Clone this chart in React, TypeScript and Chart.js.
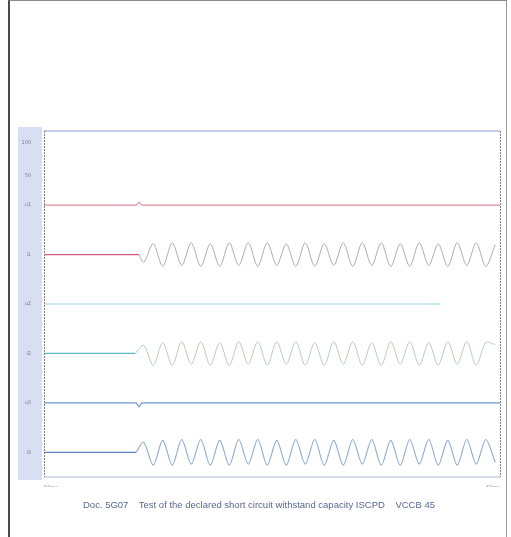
import React, { useEffect, useRef } from "react";
import { Chart, registerables } from "chart.js";

Chart.register(...registerables);

// time axis (ms) and trace baselines
const timeRange = [0, 480];
const timeTickLabels = ["50ms", "50ms"];
const traceBaselines = [275, 225, 175, 125, 75, 25];
const traceLabels = ["u1", "i1", "u2", "i2", "u3", "i3"];
const upperTickValues = [305, 338];
const upperTickLabels = ["50", "100"];

// flat traces (time, offset from baseline)
const flat1Times = [0, 97, 100, 103, 480];
const flat1Values = [0, 0, 3, 0, 0];
const flat3Times = [0, 417];
const flat3Values = [0, 0];
const flat5Times = [0, 97, 100, 103, 480];
const flat5Values = [0, 0, -4, 0, 0];

// pre-fault segments of the oscillating traces
const preFaultEnd = [100, 96, 97];

// oscillation: peak times and peak offsets
const waveTimes = [
  100, 105, 115, 125, 135, 145, 155, 165, 175, 185, 195, 205, 215, 225, 235, 245,
  255, 265, 275, 285, 295, 305, 315, 325, 335, 345, 355, 365, 375, 385, 395, 405,
  415, 425, 435, 445, 455, 465, 475,
];
const wave2Values = [
  0, -8, 11, -12, 12, -11, 12, -12, 11, -12, 12, -11, 12, -12, 12, -11, 11, -12, 12,
  -12, 11, -11, 12, -12, 12, -11, 12, -12, 11, -12, 12, -11, 11, -12, 12, -11, 12, -12, 10,
];
const wave4Values = [
  0, 8, -12, 11, -12, 12, -11, 12, -12, 11, -12, 12, -11, 12, -12, 12, -11, 12, -12,
  11, -12, 12, -11, 12, -12, 11, -12, 12, -11, 12, -12, 11, -12, 12, -11, 12, -12, 11, 9,
];
const wave6Values = [
  0, 10, -13, 12, -13, 13, -12, 13, -13, 12, -13, 13, -12, 13, -13, 12, -13, 13, -12,
  13, -13, 12, -13, 13, -12, 13, -13, 12, -13, 13, -12, 13, -13, 12, -13, 13, -12, 13, -10,
];

const caption =
  "Doc. 5G07    Test of the declared short circuit withstand capacity ISCPD    VCCB 45";

const toPoints = (times: number[], values: number[], base: number) =>
  times.map((t, i) => ({ x: t, y: base + values[i] }));

const framePlugin = {
  id: "frame",
  beforeDraw(chart: any) {
    const { ctx, chartArea } = chart;
    ctx.save();
    ctx.fillStyle = "#d9dff3";
    ctx.fillRect(18, chartArea.top - 4, chartArea.left - 20, chartArea.bottom - chartArea.top + 7);
    ctx.restore();
  },
  afterDraw(chart: any) {
    const { ctx, chartArea } = chart;
    const { left, right, top, bottom } = chartArea;
    ctx.save();
    ctx.strokeStyle = "#c3cdeb";
    ctx.lineWidth = 2;
    ctx.beginPath();
    ctx.moveTo(left, top);
    ctx.lineTo(right, top);
    ctx.stroke();
    ctx.strokeStyle = "#c8d0e8";
    ctx.lineWidth = 1.5;
    ctx.beginPath();
    ctx.moveTo(left, bottom);
    ctx.lineTo(right, bottom);
    ctx.stroke();
    ctx.strokeStyle = "#808080";
    ctx.lineWidth = 1;
    ctx.setLineDash([2, 1]);
    ctx.beginPath();
    ctx.moveTo(right + 0.5, top);
    ctx.lineTo(right + 0.5, bottom);
    ctx.moveTo(left + 0.5, top);
    ctx.lineTo(left + 0.5, bottom);
    ctx.stroke();
    ctx.restore();
  },
};

export default function App() {
  const ref = useRef<HTMLCanvasElement>(null);

  useEffect(() => {
    if (!ref.current) return;
    const line = (data: any[], color: string, width = 1, tension = 0) => ({
      data,
      borderColor: color,
      borderWidth: width,
      pointRadius: 0,
      tension,
      fill: false,
    });
    const chart = new Chart(ref.current, {
      type: "line",
      data: {
        datasets: [
          line(toPoints(flat1Times, flat1Values, traceBaselines[0]), "#e48aa4", 1.1),
          line(
            [
              { x: 0, y: traceBaselines[1] },
              { x: preFaultEnd[0], y: traceBaselines[1] },
            ],
            "#d8587a",
            1.2
          ),
          line(toPoints(waveTimes, wave2Values, traceBaselines[1]), "#adadad", 1, 0.3),
          line(toPoints(flat3Times, flat3Values, traceBaselines[2]), "#92d8e4", 1.2),
          line(
            [
              { x: 0, y: traceBaselines[3] },
              { x: preFaultEnd[1], y: traceBaselines[3] },
            ],
            "#5cb8bc",
            1.2
          ),
          line(
            toPoints(waveTimes.map((t, i) => (i === 0 ? preFaultEnd[1] : t)), wave4Values, traceBaselines[3]),
            "#bccbc0",
            1,
            0.3
          ),
          line(toPoints(flat5Times, flat5Values, traceBaselines[4]), "#6d98d6", 1.2),
          line(
            [
              { x: 0, y: traceBaselines[5] },
              { x: preFaultEnd[2], y: traceBaselines[5] },
            ],
            "#5582cc",
            1.2
          ),
          line(
            toPoints(waveTimes.map((t, i) => (i === 0 ? preFaultEnd[2] : t)), wave6Values, traceBaselines[5]),
            "#8ea8d0",
            1.1,
            0.3
          ),
        ],
      },
      options: {
        animation: false,
        responsive: false,
        devicePixelRatio: 1,
        layout: { padding: { left: 14, top: 131, right: 11, bottom: 50 } },
        plugins: { legend: { display: false }, tooltip: { enabled: false } },
        scales: {
          x: {
            type: "linear",
            min: timeRange[0],
            max: timeRange[1],
            grid: { display: false },
            border: { display: false },
            afterBuildTicks: (axis: any) => {
              axis.ticks = timeRange.map((v) => ({ value: v }));
            },
            afterFit: (axis: any) => {
              axis.height = 10;
            },
            ticks: {
              align: "inner",
              padding: 0,
              maxRotation: 0,
              color: "#8a8a9a",
              font: { size: 5, family: "DejaVu Sans" },
              callback: (_v: any, i: number) => timeTickLabels[i],
            },
          },
          y: {
            type: "linear",
            min: 0,
            max: 350,
            grid: { display: false },
            border: { display: false },
            afterBuildTicks: (axis: any) => {
              axis.ticks = [...traceBaselines, ...upperTickValues].map((v) => ({ value: v }));
            },
            afterFit: (axis: any) => {
              axis.width = 30;
            },
            ticks: {
              padding: 5,
              color: "#7a7a8a",
              font: { size: 5, family: "DejaVu Sans" },
              callback: (v: any) => {
                const i = traceBaselines.indexOf(v);
                if (i >= 0) return traceLabels[i];
                const j = upperTickValues.indexOf(v);
                return j >= 0 ? upperTickLabels[j] : "";
              },
            },
          },
        },
      },
      plugins: [framePlugin],
    });
    return () => chart.destroy();
  }, []);

  return (
    <div
      style={{
        position: "fixed",
        left: 0,
        top: 0,
        width: 511,
        height: 537,
        background: "#ffffff",
        overflow: "hidden",
      }}
    >
      <div
        style={{
          position: "absolute",
          left: 8,
          top: 0,
          width: 499,
          height: 537,
          borderLeft: "2px solid #4a4a4a",
          borderTop: "1px solid #8a8a8a",
          borderRight: "1px solid #9a9a9a",
          boxSizing: "border-box",
        }}
      />
      <canvas ref={ref} width={511} height={537} style={{ position: "absolute", left: 0, top: 0 }} />
      <div
        style={{
          position: "absolute",
          left: 0,
          top: 499,
          width: 518,
          textAlign: "center",
          fontFamily: "'Liberation Sans', Arial, sans-serif",
          fontSize: 9.5,
          color: "#5a6690",
          whiteSpace: "pre",
        }}
      >
        {caption}
      </div>
    </div>
  );
}
